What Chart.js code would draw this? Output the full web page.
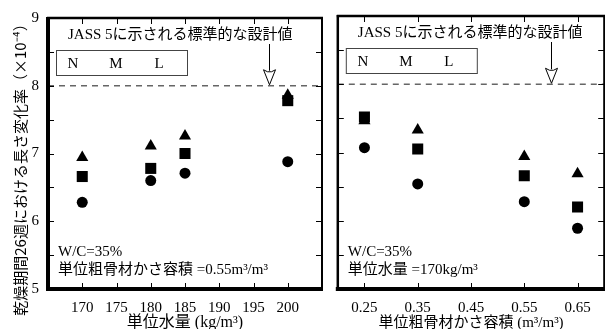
<!DOCTYPE html>
<html>
<head>
<meta charset="utf-8">
<script src="https://cdn.jsdelivr.net/npm/chart.js@4"></script>
<style>
body { margin: 0; background: #fff; overflow: hidden; width: 605px; height: 329px; position: relative; }
#c1 { position: absolute; left: 0; top: 0; }
#c2 { position: absolute; left: 330px; top: 0; }
</style>
</head>
<body>
<canvas id="c1" width="330" height="329"></canvas>
<canvas id="c2" width="282" height="329"></canvas>
<script>
// left panel: 単位水量
const waterContent = [170, 180, 185, 200];
const waterN = [6.28, 6.60, 6.71, 6.88];
const waterM = [6.66, 6.78, 7.00, 7.78];
const waterL = [6.94, 7.11, 7.26, 7.86];
const waterTicks = [170, 175, 180, 185, 190, 195, 200];

// right panel: 単位粗骨材かさ容積
const aggVolume = [0.25, 0.35, 0.55, 0.65];
const aggN = [7.07, 6.54, 6.28, 5.89];
const aggM = [7.52, 7.05, 6.66, 6.20];
const aggL = [7.465, 7.33, 6.94, 6.69];
const aggTicks = [0.25, 0.35, 0.45, 0.55, 0.65];

const yMinorTicks = [5.5, 6, 6.5, 7, 7.5, 8, 8.5];
const designValue = 8;

const SERIF = "'Liberation Serif', 'Noto Sans CJK JP', serif";
const GOTHIC = "'Noto Sans CJK JP', sans-serif";

const pts = (xs, ys) => xs.map((x, i) => ({ x: x, y: ys[i] }));

const sheetPlugin = {
    id: 'sheet',
    beforeDatasetsDraw(chart, args, o) {
        const { ctx, chartArea: a, scales: { y } } = chart;
        const yd = y.getPixelForValue(designValue);
        ctx.save();
        ctx.strokeStyle = '#666';
        ctx.lineWidth = 1.4;
        ctx.setLineDash([6, 5]);
        ctx.beginPath();
        ctx.moveTo(a.left, yd);
        ctx.lineTo(a.right, yd);
        ctx.stroke();
        ctx.restore();
    },
    afterDraw(chart, args, o) {
        const { ctx, chartArea: a, scales: { x, y } } = chart;
        ctx.save();
        ctx.strokeStyle = '#000';
        ctx.fillStyle = '#000';

        // frame
        const line = (w, x1, y1, x2, y2) => {
            ctx.lineWidth = w;
            ctx.beginPath(); ctx.moveTo(x1, y1); ctx.lineTo(x2, y2); ctx.stroke();
        };
        line(2.5, a.left - 1, a.top, a.right + 1, a.top);
        line(2, a.right, a.top, a.right, a.bottom);
        line(o.leftW, a.left, a.top - 1, a.left, a.bottom + 2);
        line(4, a.left - 2, a.bottom, a.right + 1, a.bottom);

        // inward ticks
        yMinorTicks.forEach(v => {
            const py = Math.round(y.getPixelForValue(v)) + 0.5;
            line(1, a.left, py, a.left + 6, py);
            line(1, a.right - 6, py, a.right, py);
        });
        o.xTicks.forEach(v => {
            const px = Math.round(x.getPixelForValue(v)) + 0.5;
            line(1, px, a.bottom, px, a.bottom - 6);
            line(1, px, a.top, px, a.top + 6);
        });

        // legend box (text only)
        const bx = a.left + 8, by = a.top + 32;
        ctx.strokeStyle = '#444';
        ctx.lineWidth = 1;
        ctx.strokeRect(bx + 0.5, by + 0.5, 131, 25);
        ctx.font = '15px ' + SERIF;
        ctx.textAlign = 'center';
        ctx.textBaseline = 'middle';
        ['N', 'M', 'L'].forEach((t, i) => ctx.fillText(t, bx + 17 + i * 43, by + 14));

        // design value annotation
        ctx.textAlign = 'left';
        ctx.fillText(o.note, a.left + 20, a.top + 17);

        // arrow
        const ax = Math.round(x.getPixelForValue(o.arrowX)) + 0.5;
        const tip = y.getPixelForValue(designValue) - 1;
        ctx.strokeStyle = '#000';
        line(1, ax, a.top + 26, ax, tip - 14);
        ctx.beginPath();
        ctx.moveTo(ax - 6, tip - 15);
        ctx.lineTo(ax - 2, tip - 13);
        ctx.lineTo(ax + 2, tip - 13);
        ctx.lineTo(ax + 6, tip - 15);
        ctx.lineTo(ax, tip);
        ctx.closePath();
        ctx.fillStyle = '#fff';
        ctx.fill();
        ctx.stroke();

        // conditions
        ctx.fillStyle = '#000';
        ctx.fillText('W/C=35%', a.left + 10, a.bottom - 37);
        ctx.fillText(o.cond, a.left + 10, a.bottom - 19);

        // y title
        if (o.yTitle) {
            ctx.translate(20, 166);
            ctx.rotate(-Math.PI / 2);
            ctx.textAlign = 'center';
            ctx.font = '15px ' + GOTHIC;
            ctx.fillText(o.yTitle, 0, 0);
        }
        ctx.restore();
    }
};

function makeConfig(xs, n, m, l, xMin, xMax, xTicks, fmt, title, titleSize, yWidth, showY, padRight, sheet) {
    const marker = (data, style, r) => ({
        data: data,
        pointStyle: style,
        pointRadius: r,
        backgroundColor: '#000',
        borderColor: '#000',
        borderWidth: 0
    });
    return {
        type: 'scatter',
        data: {
            datasets: [
                marker(pts(xs, n), 'circle', 5.5),
                marker(pts(xs, m), 'rect', 7.8),
                marker(pts(xs, l), 'triangle', 7)
            ]
        },
        options: {
            responsive: false,
            animation: false,
            events: [],
            layout: { padding: { top: 16, right: padRight, left: 0, bottom: 0 } },
            plugins: { legend: { display: false }, tooltip: { enabled: false }, sheet: sheet },
            scales: {
                x: {
                    type: 'linear',
                    min: xMin,
                    max: xMax,
                    grid: { display: false, drawTicks: false },
                    border: { display: false },
                    afterBuildTicks: s => { s.ticks = xTicks.map(v => ({ value: v })); },
                    afterFit: s => { s.height = 40; },
                    ticks: {
                        padding: 10,
                        color: '#000',
                        font: { family: SERIF, size: 15 },
                        callback: fmt
                    },
                    title: {
                        display: true,
                        text: title,
                        color: '#000',
                        padding: 0,
                        font: { family: SERIF, size: titleSize, lineHeight: 0.8 }
                    }
                },
                y: {
                    min: 5,
                    max: 9,
                    grid: { display: false, drawTicks: false },
                    border: { display: false },
                    afterFit: s => { s.width = yWidth; },
                    ticks: {
                        display: showY,
                        stepSize: 1,
                        padding: 9,
                        color: '#000',
                        font: { family: SERIF, size: 15 }
                    }
                }
            }
        },
        plugins: [sheetPlugin]
    };
}

new Chart(document.getElementById('c1'), makeConfig(
    waterContent, waterN, waterM, waterL, 165, 205, waterTicks,
    v => String(v), '単位水量 (kg/m³)', 16, 48, true, 8,
    {
        leftW: 4, xTicks: waterTicks, arrowX: 197.2,
        note: 'JASS 5に示される標準的な設計値',
        cond: '単位粗骨材かさ容積 =0.55m³/m³',
        yTitle: '乾燥期間26週における長さ変化率（×10⁻⁴）'
    }
));

new Chart(document.getElementById('c2'), makeConfig(
    aggVolume, aggN, aggM, aggL, 0.2, 0.7, aggTicks,
    v => Number(v).toFixed(2), '単位粗骨材かさ容積 (m³/m³)', 15, 6, false, 3,
    {
        leftW: 2.5, xTicks: aggTicks, arrowX: 0.6,
        note: 'JASS 5に示される標準的な設計値',
        cond: '単位水量 =170kg/m³'
    }
));
</script>
</body>
</html>
